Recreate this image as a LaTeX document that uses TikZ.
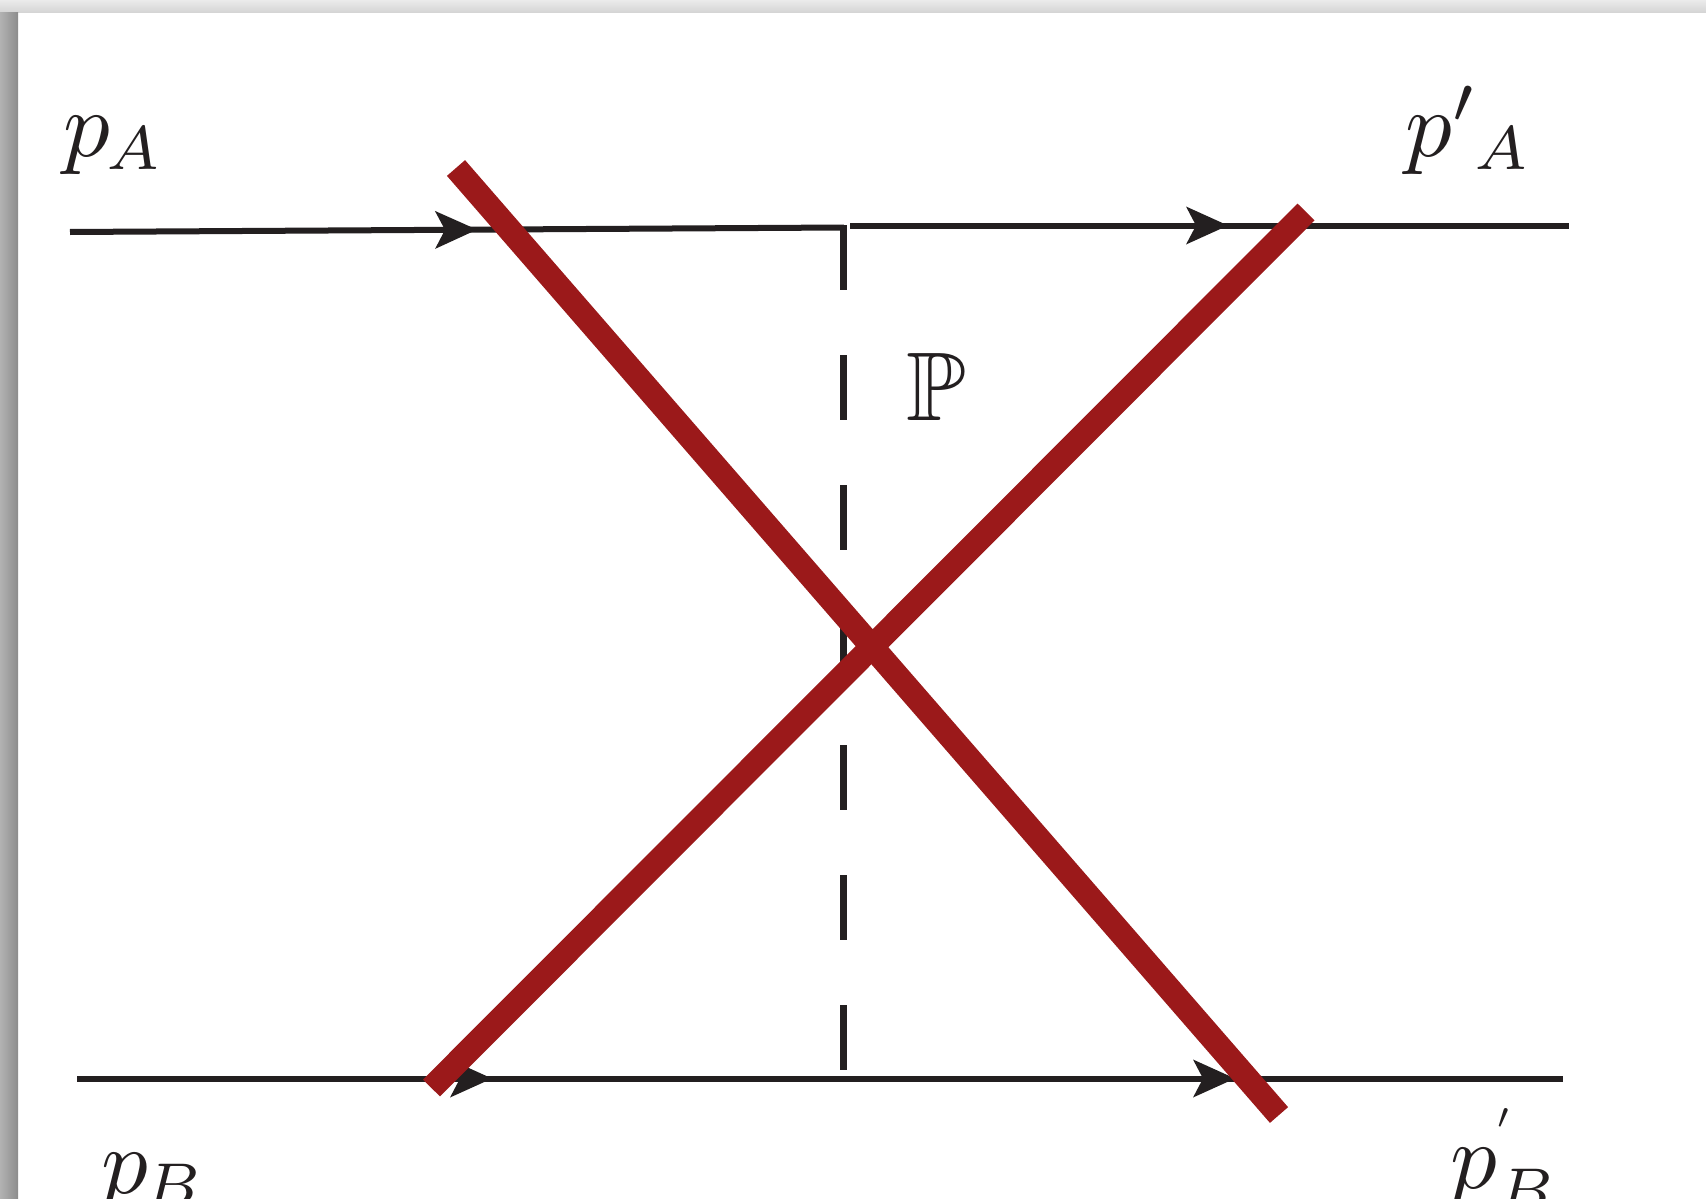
\documentclass[tikz,border=0pt]{standalone}
\usepackage{amssymb}
\usepackage{graphicx}
\usetikzlibrary{arrows.meta,decorations.markings}
\definecolor{ink}{HTML}{231F20}
\definecolor{xred}{RGB}{155,25,26}
\newcommand{\smsub}[1]{\scalebox{0.95}{$\scriptstyle #1$}}
\tikzset{
  fermion/.style={draw=ink, line width=6pt},
  gluon/.style={draw=ink, line width=6.5pt, dash pattern=on 65pt off 65pt},
  cutline/.style={draw=xred, line width=24pt},
  lbl/.style={inner sep=0pt, anchor=base west, scale=9.3, text=ink},
  arrowat/.style={postaction={decorate}, decoration={markings, mark=at position #1 with {\arrow[ink]{Stealth[length=42pt,width=38pt,inset=10pt,line width=0pt]}}}},
}
\begin{document}
\begin{tikzpicture}[x=1pt,y=-1pt]
\useasboundingbox (0,0) rectangle (1706,1199);
\fill[white] (0,0) rectangle (1706,1199);
\shade[top color=black!8, bottom color=black!17] (0,0) rectangle (1706,13);
\shade[left color=black!30, right color=black!45] (0,13) rectangle (18,1199);
% coordinates
\coordinate (TAL) at (70,232);
\coordinate (TAV) at (844,227.5);
\coordinate (TAR0) at (850,225.5);
\coordinate (TAR) at (1569,225.5);
\coordinate (DT) at (843.5,225);
\coordinate (DB) at (843.5,1072);
\coordinate (BL) at (77,1078.5);
\coordinate (BV) at (843,1078.5);
\coordinate (BR) at (1563,1078.5);
\coordinate (R1a) at (456,168);
\coordinate (R1b) at (1279,1115);
\coordinate (R2a) at (431.5,1088);
\coordinate (R2b) at (1306,212);
% fermion lines
\draw[fermion, arrowat=407pt] (TAL) -- (TAV);
\draw[fermion, arrowat=378pt] (TAR0) -- (TAR);
\draw[fermion, arrowat=415pt] (BL) -- (BV);
\draw[fermion, arrowat=392pt] (BV) -- (BR);
% pomeron exchange
\draw[gluon] (DT) -- (DB);
% cuts
\draw[cutline] (R1a) -- (R1b);
\draw[cutline] (R2a) -- (R2b);
% labels
\node[lbl] (pA) at (62,156) {$p_{\mkern-1mu\smsub{A}}$};
\node[lbl] (pAp) at (1404,156) {$p'{}_{\mkern-1mu\smsub{A}}$};
\node[lbl] (pB) at (100,1193) {$p_{\mkern-1mu\smsub{B}}$};
\node[lbl] (pBp) at (1449,1188) {$p^{\raisebox{2.8pt}{\scalebox{0.55}{$\scriptstyle\prime$}}}_{\smsub{B}}$};
\node[lbl, scale=1.05] (P) at (905,420) {$\mathbb{P}$};
\end{tikzpicture}
\end{document}
